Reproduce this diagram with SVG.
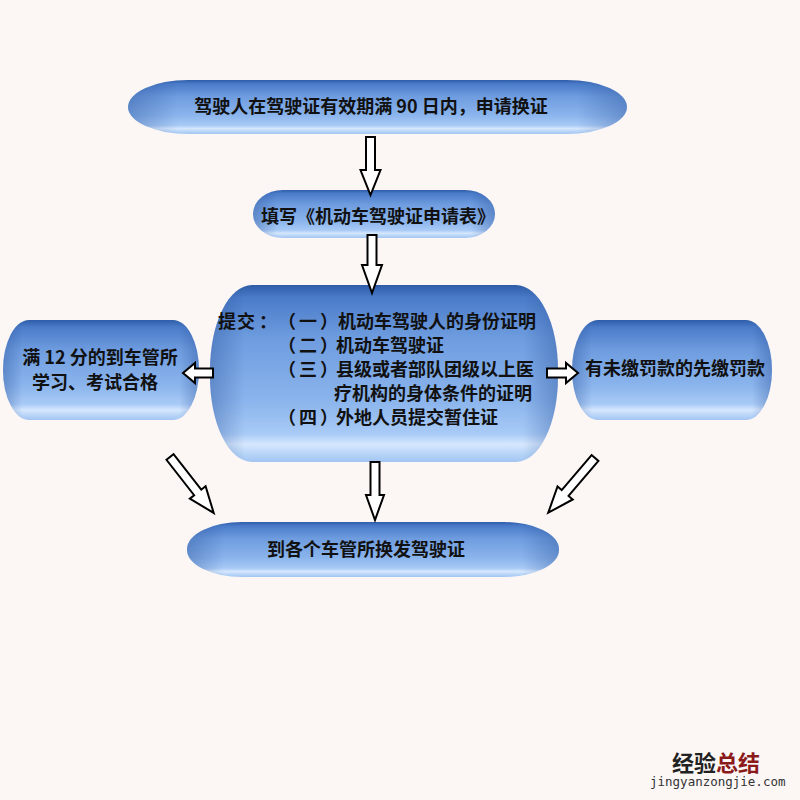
<svg xmlns="http://www.w3.org/2000/svg" width="800" height="800" viewBox="0 0 800 800">
<defs>
<linearGradient id="gv" x1="0" y1="0" x2="0" y2="1">
<stop offset="0" stop-color="#2e5ca8"/>
<stop offset="0.07" stop-color="#4a7bc8"/>
<stop offset="0.3" stop-color="#6e9cdf"/>
<stop offset="0.65" stop-color="#8ab4ec"/>
<stop offset="0.84" stop-color="#a8caf6"/>
<stop offset="0.9" stop-color="#d6e7fd"/>
<stop offset="0.95" stop-color="#b9d6f8"/>
<stop offset="1" stop-color="#a3c5f2"/>
</linearGradient>
<linearGradient id="gh" x1="0" y1="0" x2="1" y2="0">
<stop offset="0" stop-color="#1e4690" stop-opacity="0.35"/>
<stop offset="0.1" stop-color="#1e4690" stop-opacity="0"/>
<stop offset="0.9" stop-color="#1e4690" stop-opacity="0"/>
<stop offset="1" stop-color="#1e4690" stop-opacity="0.35"/>
</linearGradient>
<style>
.bg{fill:#fcf7f5}
.nf{fill:url(#gv)}
.ns{fill:url(#gh)}
.t{font-family:"Noto Sans CJK SC","Noto Sans",sans-serif;font-size:18px;font-weight:700;fill:#111}
.m{text-anchor:middle}
.ar{fill:#fff;stroke:#000;stroke-width:2;stroke-linejoin:miter}
.wm{font-family:"Noto Sans CJK SC",sans-serif;font-size:22px;font-weight:700}
.wu{font-family:"DejaVu Sans Mono",monospace;font-size:12.5px;fill:#333}
</style>
</defs>
<rect class="bg" x="0" y="0" width="800" height="800"/>

<g id="node-apply">
<rect class="nf" x="128" y="80" width="499" height="54" rx="60" ry="27"/>
<rect class="ns" x="128" y="80" width="499" height="54" rx="60" ry="27"/>
<text class="t m" x="371" y="113">驾驶人在驾驶证有效期满 90 日内，申请换证</text>
</g>

<g id="node-form">
<rect class="nf" x="253" y="190" width="242" height="48" rx="30" ry="24"/>
<rect class="ns" x="253" y="190" width="242" height="48" rx="30" ry="24"/>
<text class="t m" x="378" y="223">填写《机动车驾驶证申请表》</text>
</g>

<g id="node-submit">
<rect class="nf" x="210" y="285" width="348" height="177" rx="42" ry="85"/>
<rect class="ns" x="210" y="285" width="348" height="177" rx="42" ry="85"/>
<text class="t" y="328"><tspan x="218 237 259">提交：</tspan><tspan x="278 299 320 336">（一）</tspan>机动车驾驶人的身份证明</text>
<text class="t" y="352" x="278 299 320 336">（二）机动车驾驶证</text>
<text class="t" y="376" x="278 299 320 336">（三）县级或者部队团级以上医</text>
<text class="t" y="400" x="334">疗机构的身体条件的证明</text>
<text class="t" y="424" x="278 299 320 336">（四）外地人员提交暂住证</text>
</g>

<g id="node-study">
<rect class="nf" x="3" y="320" width="196" height="100" rx="26" ry="50"/>
<rect class="ns" x="3" y="320" width="196" height="100" rx="26" ry="50"/>
<text class="t m" x="100" y="364">满 12 分的到车管所</text>
<text class="t m" x="95" y="389">学习、考试合格</text>
</g>

<g id="node-fine">
<rect class="nf" x="572" y="320" width="200" height="100" rx="26" ry="50"/>
<rect class="ns" x="572" y="320" width="200" height="100" rx="26" ry="50"/>
<text class="t m" x="675" y="375">有未缴罚款的先缴罚款</text>
</g>

<g id="node-issue">
<rect class="nf" x="187" y="522" width="372" height="55" rx="55" ry="27"/>
<rect class="ns" x="187" y="522" width="372" height="55" rx="55" ry="27"/>
<text class="t m" x="366" y="556">到各个车管所换发驾驶证</text>
</g>

<g id="connectors">
<path class="ar" transform="translate(370.5,137)" d="M-4.5,0H4.5V33H10L0,58L-10,33H-4.5Z"/>
<path class="ar" transform="translate(372,235)" d="M-4.5,0H4.5V30H10L0,58L-10,30H-4.5Z"/>
<path class="ar" transform="translate(375,462)" d="M-4.5,0H4.5V33H9L0,58L-9,33H-4.5Z"/>
<path class="ar" transform="translate(170,457) rotate(-38)" d="M-4.5,0H4.5V45H10L0,71L-10,45H-4.5Z"/>
<path class="ar" transform="translate(595,458) rotate(40.5)" d="M-4.5,0H4.5V46H10L0,72L-10,46H-4.5Z"/>
<path class="ar" transform="translate(213,373) rotate(90)" d="M-4.5,0H4.5V18H10L0,30L-10,18H-4.5Z"/>
<path class="ar" transform="translate(547,373) rotate(-90)" d="M-4.5,0H4.5V19H10L0,31L-10,19H-4.5Z"/>
</g>

<g id="watermark">
<text class="wm" x="672" y="771"><tspan fill="#222">经验</tspan><tspan fill="#8b1a1a">总结</tspan></text>
<text class="wu" x="650" y="786">jingyanzongjie.com</text>
</g>
</svg>
